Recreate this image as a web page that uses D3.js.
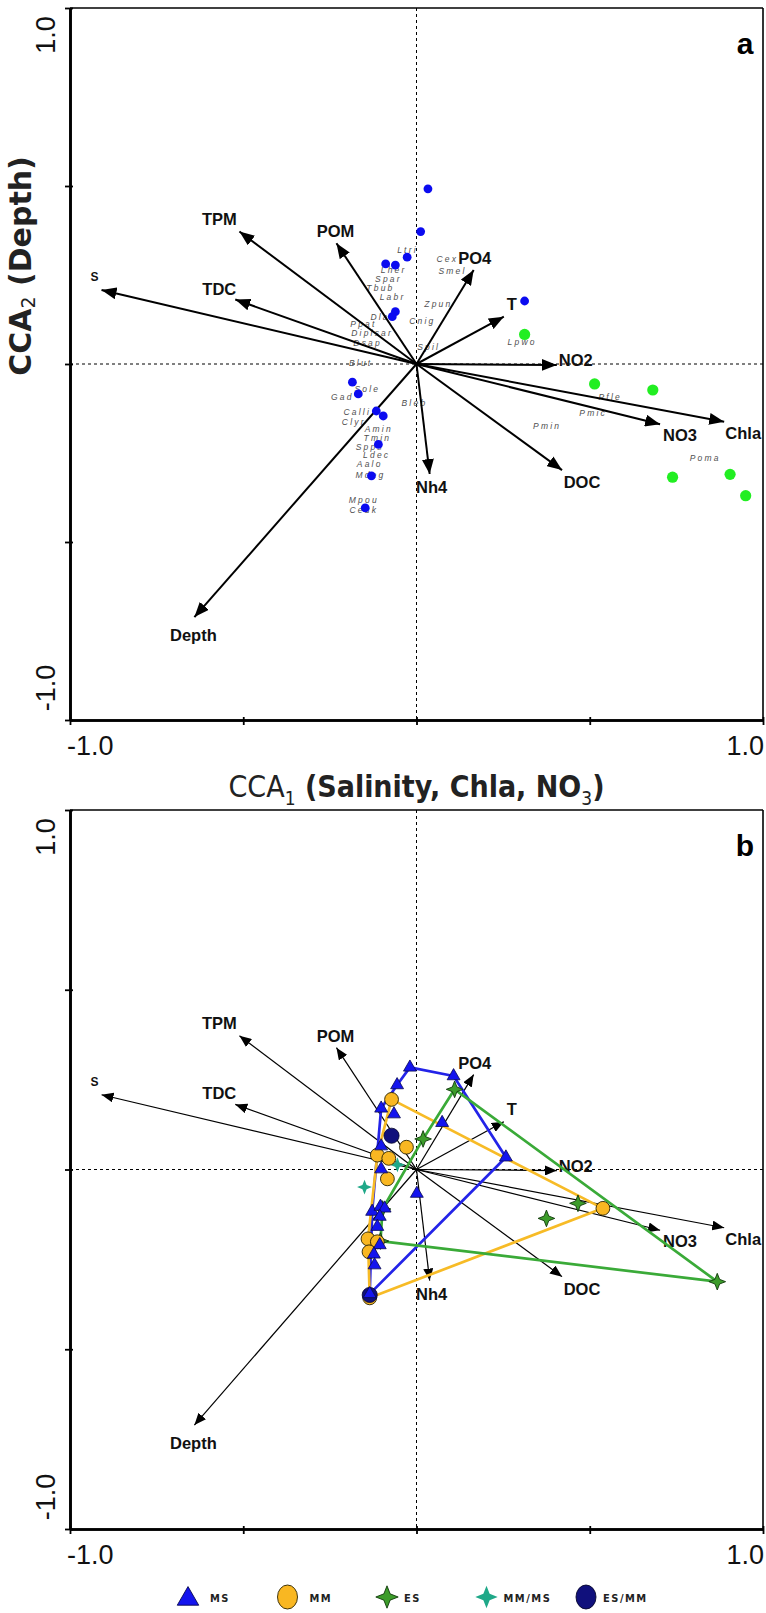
<!DOCTYPE html>
<html>
<head>
<meta charset="utf-8">
<script src="https://cdn.jsdelivr.net/npm/d3@7"></script>
<style>
  body { margin: 0; background: #fff; }
  svg { display: block; }
</style>
</head>
<body>
<div id="chart"></div>
<script>
////////////////////////////// data //////////////////////////////

// environmental vectors (same CCA in both panels)
const envNames = ["S", "TPM", "TDC", "POM", "PO4", "T", "NO2", "NO3", "Chla", "DOC", "Nh4", "Depth"];
const envX = [-0.909, -0.511, -0.523, -0.231, 0.165, 0.252, 0.405, 0.703, 0.888, 0.420, 0.038, -0.641];
const envY = [0.208, 0.372, 0.181, 0.339, 0.264, 0.133, -0.003, -0.169, -0.162, -0.298, -0.309, -0.711];

// panel a: species scores
const blueDotX = [0.033, 0.012, -0.027, -0.089, -0.061, -0.061, -0.070, 0.312, -0.185, -0.168, -0.116, -0.096, -0.110, -0.130, -0.148];
const blueDotY = [0.492, 0.372, 0.300, 0.281, 0.278, 0.147, 0.133, 0.177, -0.051, -0.084, -0.132, -0.146, -0.226, -0.314, -0.404];
const greenDotX = [0.312, 0.514, 0.682, 0.739, 0.905, 0.950];
const greenDotY = [0.083, -0.056, -0.073, -0.318, -0.310, -0.370];

const speciesNames = ["Ltri", "Lher", "Spar", "Tbub", "Labr", "Cex", "Smel", "Zpun", "Cnig", "Spil", "Lpwo",
  "Dlab", "Ppat", "Diplsar", "Dsap", "Blut", "Sole", "Gad", "Bleb", "Calli", "Clyr", "Amin", "Tmin",
  "Spps", "Ldec", "Aalo", "Mdeg", "Mpou", "Ceuk", "Pfle", "Pmic", "Pmin", "Poma"];
const speciesX = [-0.026, -0.066, -0.081, -0.104, -0.069, 0.089, 0.104, 0.063, 0.017, 0.035, 0.305,
  -0.095, -0.153, -0.128, -0.141, -0.161, -0.142, -0.214, -0.006, -0.171, -0.181, -0.109, -0.113,
  -0.135, -0.115, -0.135, -0.133, -0.152, -0.152, 0.559, 0.510, 0.377, 0.833];
const speciesY = [0.320, 0.264, 0.240, 0.214, 0.188, 0.295, 0.261, 0.169, 0.121, 0.048, 0.062,
  0.132, 0.112, 0.086, 0.058, 0.002, -0.071, -0.092, -0.110, -0.134, -0.162, -0.183, -0.207,
  -0.232, -0.256, -0.280, -0.312, -0.381, -0.411, -0.092, -0.138, -0.174, -0.265];

// panel b: site scores by group
const msX = [-0.019, 0.107, -0.056, -0.102, -0.065, 0.074, -0.102, -0.102, 0.258, 0.001, -0.128, -0.104, -0.092, -0.106, -0.113, -0.106, -0.123, -0.121, -0.135];
const msY = [0.284, 0.260, 0.235, 0.170, 0.154, 0.130, 0.065, 0.001, 0.034, -0.067, -0.117, -0.103, -0.108, -0.131, -0.159, -0.210, -0.236, -0.266, -0.346];
const mmX = [-0.072, -0.029, -0.113, -0.080, -0.084, -0.140, -0.113, -0.137, 0.538, -0.135];
const mmY = [0.195, 0.062, 0.040, 0.031, -0.026, -0.193, -0.201, -0.229, -0.108, -0.357];
const esX = [-0.104, -0.098, 0.110, 0.019, 0.466, 0.375, 0.868];
const esY = [-0.199, -0.110, 0.223, 0.085, -0.094, -0.136, -0.312];
const mmmsX = [-0.150, -0.055];
const mmmsY = [-0.049, 0.013];
const esmmX = [-0.072, -0.135];
const esmmY = [0.094, -0.349];

const legendKeys = ["MS", "MM", "ES", "MM/MS", "ES/MM"];
const tickValues = [-1, -0.5, 0, 0.5, 1];

////////////////////////////// layout //////////////////////////////

const width = 766, height = 1613;

const labelOffset = {
  S: [-7, -13], TPM: [-20, -13], TDC: [-16, -11], POM: [-1, -12], PO4: [1, -12], T: [8, -13],
  NO2: [19, -5], NO3: [20, 11], Chla: [19, 11], DOC: [20, 12], Nh4: [2, 13], Depth: [-1, 18]
};

const colors = {
  MS: "#1414ee", MM: "#f9b722", ES: "#3c9c2a", "MM/MS": "#1fa888", "ES/MM": "#10107c"
};
const hullColors = { MS: "#2323e8", MM: "#f7bb26", ES: "#3aaa38" };

const svg = d3.select("#chart").append("svg")
  .attr("width", width)
  .attr("height", height)
  .style("font-family", "'Liberation Sans', Arial, sans-serif");

const xScale = d3.scaleLinear().domain([-1, 1]).range([70, 763]);
const yA = d3.scaleLinear().domain([-1, 1]).range([720, 8]);
const yB = d3.scaleLinear().domain([-1, 1]).range([1529, 810]);

// arrow heads
const defs = svg.append("defs");
function addHead(id, len, half) {
  defs.append("marker")
    .attr("id", id)
    .attr("markerUnits", "userSpaceOnUse")
    .attr("viewBox", `0 0 ${len} ${half * 2}`)
    .attr("markerWidth", len)
    .attr("markerHeight", half * 2)
    .attr("refX", len)
    .attr("refY", half)
    .attr("orient", "auto")
    .append("path")
    .attr("d", `M0,0 L${len},${half} L0,${half * 2} z`)
    .attr("fill", "#000");
}
addHead("headA", 15, 6);
addHead("headB", 12, 5);

// 4-point star symbol
const star4 = {
  draw(context, size) {
    const r = Math.sqrt(size) / 1.2;
    const k = r * 0.28;
    context.moveTo(0, -r);
    context.lineTo(k, -k);
    context.lineTo(r, 0);
    context.lineTo(k, k);
    context.lineTo(0, r);
    context.lineTo(-k, k);
    context.lineTo(-r, 0);
    context.lineTo(-k, -k);
    context.closePath();
  }
};

////////////////////////////// frame //////////////////////////////

function drawFrame(y, letter) {
  const g = svg.append("g");

  // zero lines
  g.append("line")
    .attr("x1", xScale(0)).attr("x2", xScale(0))
    .attr("y1", y(1)).attr("y2", y(-1))
    .attr("stroke", "#000").attr("stroke-width", 1).attr("stroke-dasharray", "3,3");
  g.append("line")
    .attr("x1", xScale(-1)).attr("x2", xScale(1))
    .attr("y1", y(0)).attr("y2", y(0))
    .attr("stroke", "#000").attr("stroke-width", 1).attr("stroke-dasharray", "3,3");

  // top + right border
  g.append("line")
    .attr("x1", xScale(-1)).attr("x2", xScale(1))
    .attr("y1", y(1)).attr("y2", y(1))
    .attr("stroke", "#000").attr("stroke-width", 1.6);
  g.append("line")
    .attr("x1", xScale(1)).attr("x2", xScale(1))
    .attr("y1", y(1)).attr("y2", y(-1))
    .attr("stroke", "#000").attr("stroke-width", 1.6);

  // axes, ticks crossing the line
  const axes = [
    [d3.axisLeft(y).tickSize(5), `translate(${xScale(-1)},0)`],
    [d3.axisRight(y).tickSize(3), `translate(${xScale(-1)},0)`],
    [d3.axisBottom(xScale).tickSize(5), `translate(0,${y(-1)})`],
    [d3.axisTop(xScale).tickSize(3), `translate(0,${y(-1)})`]
  ];
  axes.forEach(([ax, tr]) => {
    const a = g.append("g")
      .attr("transform", tr)
      .call(ax.tickValues(tickValues).tickFormat("").tickSizeOuter(0));
    a.select(".domain").attr("stroke-width", 2.6);
    a.selectAll(".tick line").attr("stroke-width", 1.8);
  });

  // tick labels
  const tl = g.append("g").attr("font-size", 27).attr("fill", "#111");
  tl.append("text")
    .attr("transform", `translate(46,${y(1) + 27}) rotate(-90)`)
    .attr("text-anchor", "middle").attr("dominant-baseline", "central")
    .text("1.0");
  tl.append("text")
    .attr("transform", `translate(46,${y(-1) - 32}) rotate(-90)`)
    .attr("text-anchor", "middle").attr("dominant-baseline", "central")
    .text("-1.0");
  tl.append("text")
    .attr("x", xScale(-1) - 3).attr("y", y(-1) + 35)
    .attr("text-anchor", "start")
    .text("-1.0");
  tl.append("text")
    .attr("x", xScale(1) + 1).attr("y", y(-1) + 35)
    .attr("text-anchor", "end")
    .text("1.0");

  // panel letter
  g.append("text")
    .attr("x", xScale(1) - 18).attr("y", y(1) + 46)
    .attr("text-anchor", "middle")
    .attr("font-weight", "bold").attr("font-size", 30)
    .text(letter);

  return g;
}

function drawArrows(g, y, head, lw) {
  const env = envNames.map((n, i) => ({ name: n, x: envX[i], y: envY[i] }));
  g.selectAll(null)
    .data(env)
    .enter()
    .append("line")
    .attr("x1", xScale(0)).attr("y1", y(0))
    .attr("x2", (d) => xScale(d.x)).attr("y2", (d) => y(d.y))
    .attr("stroke", "#000").attr("stroke-width", lw)
    .attr("marker-end", `url(#${head})`);
  g.selectAll(null)
    .data(env)
    .enter()
    .append("text")
    .attr("x", (d) => xScale(d.x) + labelOffset[d.name][0])
    .attr("y", (d) => y(d.y) + labelOffset[d.name][1])
    .attr("text-anchor", "middle").attr("dominant-baseline", "central")
    .attr("font-weight", "bold")
    .attr("font-size", (d) => (d.name === "S" ? 12 : 16.5))
    .attr("fill", "#111")
    .text((d) => d.name);
}

////////////////////////////// panel a //////////////////////////////

const gA = drawFrame(yA, "a");

gA.append("g")
  .selectAll("text")
  .data(speciesNames)
  .enter()
  .append("text")
  .attr("x", (d, i) => xScale(speciesX[i]))
  .attr("y", (d, i) => yA(speciesY[i]))
  .attr("text-anchor", "middle").attr("dominant-baseline", "central")
  .attr("font-size", 8.5).attr("font-style", "italic")
  .attr("letter-spacing", 2.2)
  .attr("fill", "#505050")
  .text((d) => d);

drawArrows(gA, yA, "headA", 2);

gA.append("g")
  .selectAll("circle")
  .data(blueDotX)
  .enter()
  .append("circle")
  .attr("cx", (d) => xScale(d))
  .attr("cy", (d, i) => yA(blueDotY[i]))
  .attr("r", 4.4)
  .attr("fill", "#0b0bf0");

gA.append("g")
  .selectAll("circle")
  .data(greenDotX)
  .enter()
  .append("circle")
  .attr("cx", (d) => xScale(d))
  .attr("cy", (d, i) => yA(greenDotY[i]))
  .attr("r", 5.6)
  .attr("fill", "#22ee22");

// axis titles
const xTitle = svg.append("text")
  .attr("x", xScale(0)).attr("y", 797)
  .attr("text-anchor", "middle")
  .attr("font-family", "'DejaVu Sans Condensed', 'DejaVu Sans', sans-serif")
  .style("font-stretch", "condensed")
  .attr("font-size", 30)
  .attr("fill", "#222");
xTitle.append("tspan").text("CCA");
xTitle.append("tspan").attr("font-size", 19).attr("dy", 8).text("1");
xTitle.append("tspan").attr("dy", -8).attr("font-weight", "bold").text(" (Salinity, Chla, NO");
xTitle.append("tspan").attr("font-size", 19).attr("dy", 8).text("3");
xTitle.append("tspan").attr("dy", -8).attr("font-weight", "bold").text(")");

const yTitle = svg.append("text")
  .attr("transform", `translate(20,266) rotate(-90)`)
  .attr("text-anchor", "middle").attr("dominant-baseline", "central")
  .attr("font-family", "'DejaVu Sans', sans-serif")
  .attr("font-weight", "bold")
  .attr("font-size", 30)
  .attr("fill", "#222");
yTitle.append("tspan").text("CCA");
yTitle.append("tspan").attr("font-size", 19).attr("font-weight", "normal").attr("dy", 8).text("2");
yTitle.append("tspan").attr("dy", -8).text(" (Depth)");

////////////////////////////// panel b //////////////////////////////

const gB = drawFrame(yB, "b");
drawArrows(gB, yB, "headB", 1.2);

const groups = {
  MS: msX.map((x, i) => [xScale(x), yB(msY[i])]),
  MM: mmX.map((x, i) => [xScale(x), yB(mmY[i])]),
  ES: esX.map((x, i) => [xScale(x), yB(esY[i])]),
  "MM/MS": mmmsX.map((x, i) => [xScale(x), yB(mmmsY[i])]),
  "ES/MM": esmmX.map((x, i) => [xScale(x), yB(esmmY[i])])
};

// convex hulls
["MS", "MM", "ES"].forEach((k) => {
  const hull = d3.polygonHull(groups[k]);
  gB.append("path")
    .attr("d", "M" + hull.join("L") + "Z")
    .attr("fill", "none")
    .attr("stroke", hullColors[k])
    .attr("stroke-width", 2.7)
    .attr("stroke-linejoin", "round");
});

const shapes = {
  MS: { type: d3.symbolTriangle, size: 72, stroke: "#0a0a50", sw: 0.8 },
  MM: { type: d3.symbolCircle, size: 150, stroke: "#2a2200", sw: 0.9 },
  ES: { type: star4, size: 100, stroke: "#123a0c", sw: 0.9 },
  "MM/MS": { type: star4, size: 80, stroke: "none", sw: 0 },
  "ES/MM": { type: d3.symbolCircle, size: 180, stroke: "#05052a", sw: 0.8 }
};

["ES", "MM/MS", "MM", "ES/MM", "MS"].forEach((k) => {
  const s = shapes[k];
  gB.append("g")
    .selectAll("path")
    .data(groups[k])
    .enter()
    .append("path")
    .attr("transform", (d) => `translate(${d[0]},${d[1]})`)
    .attr("d", d3.symbol().type(s.type).size(s.size))
    .attr("fill", colors[k])
    .attr("stroke", s.stroke)
    .attr("stroke-width", s.sw);
});

////////////////////////////// legend //////////////////////////////

const legendX = d3.scalePoint().domain(legendKeys).range([188, 586]);
const legendY = 1597;
const legendShape = {
  MS: d3.symbol().type(d3.symbolTriangle).size(200)(),
  MM: null,
  ES: d3.symbol().type(star4).size(180)(),
  "MM/MS": d3.symbol().type(star4).size(180)(),
  "ES/MM": null
};

const legend = svg.append("g")
  .selectAll("g")
  .data(legendKeys)
  .enter()
  .append("g")
  .attr("transform", (d) => `translate(${legendX(d)},${legendY})`);

legend.each(function (d) {
  const el = d3.select(this);
  if (legendShape[d]) {
    el.append("path")
      .attr("d", legendShape[d])
      .attr("transform", d === "MS" ? "translate(0,2)" : null)
      .attr("fill", colors[d])
      .attr("stroke", d === "MM/MS" ? "none" : shapes[d].stroke)
      .attr("stroke-width", 0.9);
  } else {
    el.append("ellipse")
      .attr("rx", 10).attr("ry", 12)
      .attr("fill", colors[d])
      .attr("stroke", shapes[d].stroke)
      .attr("stroke-width", 0.9);
  }
  el.append("text")
    .attr("x", d === "MS" || d === "MM" ? 22 : 17)
    .attr("y", 1)
    .attr("dominant-baseline", "central")
    .attr("font-family", "'Liberation Sans Narrow', 'DejaVu Sans Condensed', sans-serif")
    .style("font-stretch", "condensed")
    .attr("font-size", 11)
    .attr("font-weight", "bold")
    .attr("letter-spacing", 1.5)
    .attr("fill", "#222")
    .text(d);
});
</script>
</body>
</html>
